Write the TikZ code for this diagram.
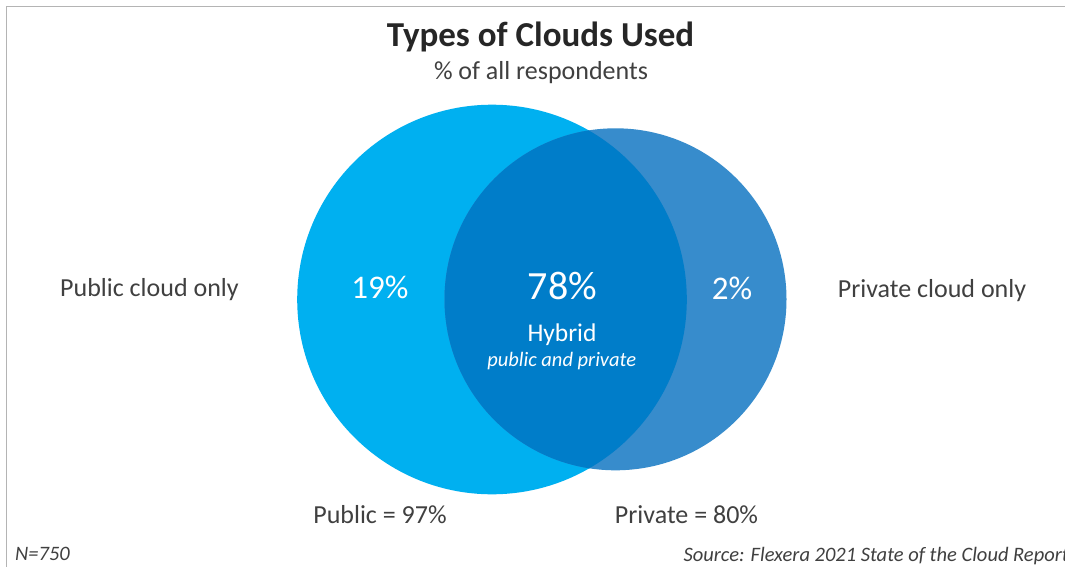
\documentclass[tikz,border=0pt]{standalone}
\usepackage{fontspec}
\setmainfont{Carlito}
\definecolor{cpub}{RGB}{0,176,240}
\definecolor{cpriv}{RGB}{55,140,204}
\definecolor{cboth}{RGB}{0,125,201}
\definecolor{txtgray}{RGB}{64,64,64}
\definecolor{ttlgray}{RGB}{38,38,38}
\definecolor{bordergray}{RGB}{180,180,180}
\begin{document}
\begin{tikzpicture}[x=1pt,y=-1pt,
  lbl/.style={inner sep=0pt, anchor=base, text=txtgray, font=\fontsize{26}{30}\selectfont},
  pct/.style={inner sep=0pt, anchor=base, text=white, font=\fontsize{33}{38}\selectfont},
  note/.style={inner sep=0pt, text=txtgray, font=\fontsize{20.5}{24}\selectfont\itshape}]
\useasboundingbox (0,0) rectangle (1065,567);
\fill[white] (0,0) rectangle (1065,567);
\draw[bordergray, line width=1.5pt] (6.5,567) -- (6.5,6.5) -- (1065,6.5);
% circles
\fill[cpub] (492,299.5) circle[radius=194.8];
\fill[cpriv] (615.5,299.3) circle[radius=171];
\begin{scope}
  \clip (492,299.5) circle[radius=194.8];
  \fill[cboth] (615.5,299.3) circle[radius=171];
\end{scope}
% titles
\node[inner sep=0pt, anchor=base, text=ttlgray, font=\fontsize{35}{40}\selectfont\bfseries] (title) at (540.5,47) {Types of Clouds Used};
\node[lbl, font=\fontsize{26}{30}\selectfont] (sub) at (541,80) {\% of all respondents};
% side labels
\node[lbl, anchor=base west] (publbl) at (60,296.7) {Public cloud only};
\node[lbl] (privlbl) at (932,297) {Private cloud only};
% percentages
\node[pct] (p19) at (380,298.3) {19\%};
\node[pct, font=\fontsize{40}{46}\selectfont] (p78) at (562.5,299.3) {78\%};
\node[pct] (p2) at (732,299) {2\%};
\node[inner sep=0pt, anchor=base, text=white, font=\fontsize{25.5}{30}\selectfont] (hyb) at (562,341.7) {Hybrid};
\node[inner sep=0pt, anchor=base, text=white, font=\fontsize{20.5}{24}\selectfont\itshape] (hybsub) at (561.7,366.7) {public and private};
% totals
\node[lbl] (pubtot) at (380,523.3) {Public = 97\%};
\node[lbl] (privtot) at (686.5,523.3) {Private = 80\%};
% footer
\node[note, anchor=base west] (n) at (15,560.5) {N=750};
\node[note, anchor=base west] (src) at (683.3,561.7) {Source: Flexera 2021 State of the Cloud Report};
\end{tikzpicture}
\end{document}
